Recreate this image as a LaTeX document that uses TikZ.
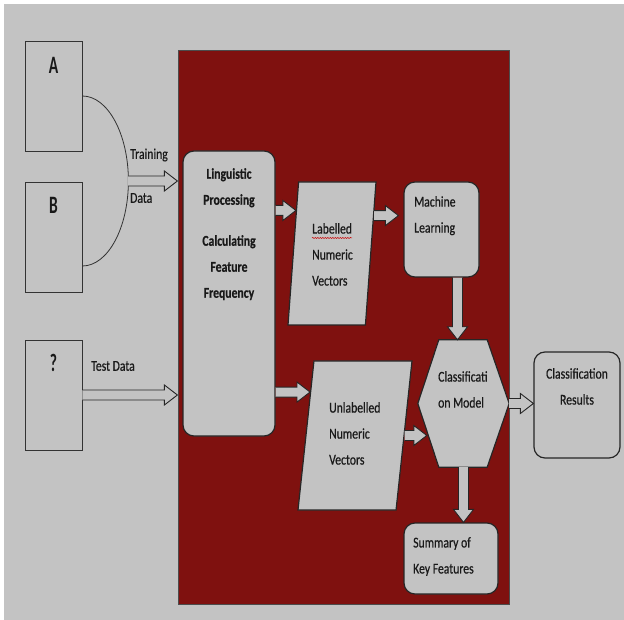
\documentclass[tikz,border=0pt]{standalone}
\usepackage{fontspec}
\setmainfont{Carlito}[FakeStretch=0.78, FakeBold=0.5]
\newfontfamily\boxletter{Carlito}[FakeStretch=0.62]
\usetikzlibrary{positioning,calc,shapes.geometric,decorations.pathmorphing}

\definecolor{panelgrey}{RGB}{195,195,195}
\definecolor{darkred}{RGB}{127,17,15}

\newcommand{\hblock}[2]{%
    \draw[blockarrow] let \p1=#1, \p2=#2 in
        (\x1,\y1+5pt) -- (\x2-13pt,\y1+5pt) -- (\x2-13pt,\y1+10pt) -- (\x2,\y1)
        -- (\x2-13pt,\y1-10pt) -- (\x2-13pt,\y1-5pt) -- (\x1,\y1-5pt);}
\newcommand{\vblock}[2]{%
    \draw[blockarrow] let \p1=#1, \p2=#2 in
        (\x1-5pt,\y1) -- (\x1-5pt,\y2+13pt) -- (\x1-10pt,\y2+13pt) -- (\x1,\y2)
        -- (\x1+10pt,\y2+13pt) -- (\x1+5pt,\y2+13pt) -- (\x1+5pt,\y1);}

\begin{document}
\begin{tikzpicture}[
    x=1pt, y=-1pt,
    every node/.style={font=\fontsize{15}{26}\selectfont, text=black!90},
    source/.style={draw=black!80, line width=0.8pt, fill=panelgrey, minimum width=57pt, minimum height=110pt},
    letter/.style={font=\boxletter\bfseries\fontsize{25}{25}\selectfont},
    stage/.style={draw=black!85, line width=1.2pt, fill=panelgrey, rounded corners=11pt},
    datablock/.style={draw=black!85, line width=1.2pt, fill=panelgrey, trapezium, trapezium stretches=true},
    blockarrow/.style={draw=black!85, line width=0.9pt, fill=panelgrey, line join=miter},
    words/.style={align=left, inner sep=0pt},
    spellmark/.style={red!80!black, line width=0.5pt, decorate, decoration={snake, amplitude=0.6pt, segment length=2.5pt}}
]
    \fill[white] (0,0) rectangle (624,620);
    \fill[panelgrey] (4,4) rectangle (624,620);
    \filldraw[fill=darkred, draw=black!70, line width=0.5pt] (178,50) rectangle (509,604);

    \node[source] (srcA) at (53.5,96) {};
    \node[source] (srcB) at (53.5,237) {};
    \node[source] (srcQ) at (53.5,395) {};
    \node[letter] (labA) at ([yshift=-25pt]srcA.north) {A};
    \node[letter] (labB) at ([yshift=-24pt]srcB.north) {B};
    \node[letter] (labQ) at ([yshift=-23pt]srcQ.north) {?};

    \draw[black!80, line width=0.8pt] (srcA.east) arc[start angle=-90, end angle=90, x radius=46, y radius=85];
    \coordinate (join) at (128,181);
    \node[anchor=west, inner sep=0pt] (trainlbl) at (130,155) {Training};
    \node[anchor=west, inner sep=0pt] (datalbl) at (130,198) {Data};
    \node[anchor=west, inner sep=0pt] (testlbl) at (91,366) {Test Data};

    \node[stage, minimum width=92pt, minimum height=285pt] (ling) at (229,293.5) {};
    \node[align=center, anchor=north, inner sep=0pt, font=\fontsize{15}{26}\selectfont\bfseries] (lingtxt) at (229,168)
        {Linguistic\\Processing\\[15pt]Calculating\\Feature\\Frequency};

    \node[datablock, trapezium left angle=81, trapezium right angle=99, minimum width=88pt, minimum height=143pt] (lab) at (332,253.5) {};
    \node[words, anchor=north west] (labtxt) at (312,223) {Labelled\\Numeric\\Vectors};
    \draw[spellmark] ([yshift=-15pt]labtxt.north west) -- ++(40,0);

    \node[stage, minimum width=75pt, minimum height=95pt] (ml) at (441.5,229.5) {};
    \node[words, anchor=north west] (mltxt) at (414,196) {Machine\\Learning};

    \node[datablock, trapezium left angle=79, trapezium right angle=101, minimum width=114pt, minimum height=149pt] (unlab) at (355,435.5) {};
    \node[words, anchor=north west] (unlabtxt) at (329,402) {Unlabelled\\Numeric\\Vectors};

    \node[minimum width=91pt, minimum height=127pt, inner sep=0pt] (clf) at (463.5,403.5) {};
    \draw[stage, rounded corners=0pt] ([xshift=21pt]clf.north west) -- ([xshift=-22pt]clf.north east) -- (clf.east)
        -- ([xshift=-22pt]clf.south east) -- ([xshift=21pt]clf.south west) -- (clf.west) -- cycle;
    \node[words, anchor=north west] (clftxt) at (438,371) {Classificati\\on Model};

    \node[stage, minimum width=86pt, minimum height=106pt] (res) at (577,405) {};
    \node[align=center, anchor=north, inner sep=0pt] (restxt) at (577,368) {Classification\\Results};

    \node[stage, minimum width=94pt, minimum height=71pt] (sum) at (451,558.5) {};
    \node[words, anchor=north west] (sumtxt) at (413,537) {Summary of\\Key Features};

    \coordinate (mlin) at ([xshift=-6pt]clf.north);
    \hblock{(join)}{([xshift=-5pt]ling.west |- join)}
    \hblock{(srcQ.east)}{([xshift=-5pt]ling.west |- srcQ.east)}
    \hblock{(ling.east |- lab.130)}{(lab.130)}
    \hblock{(lab.42)}{([xshift=-5pt]ml.west |- lab.42)}
    \hblock{(ling.east |- unlab.136)}{(unlab.136)}
    \hblock{(unlab.east)}{([xshift=9pt]clf.west |- unlab.east)}
    \hblock{(clf.east)}{(res.west |- clf.east)}
    \vblock{(ml.south -| mlin)}{(mlin)}
    \vblock{(clf.south)}{(sum.north -| clf.south)}
\end{tikzpicture}
\end{document}
